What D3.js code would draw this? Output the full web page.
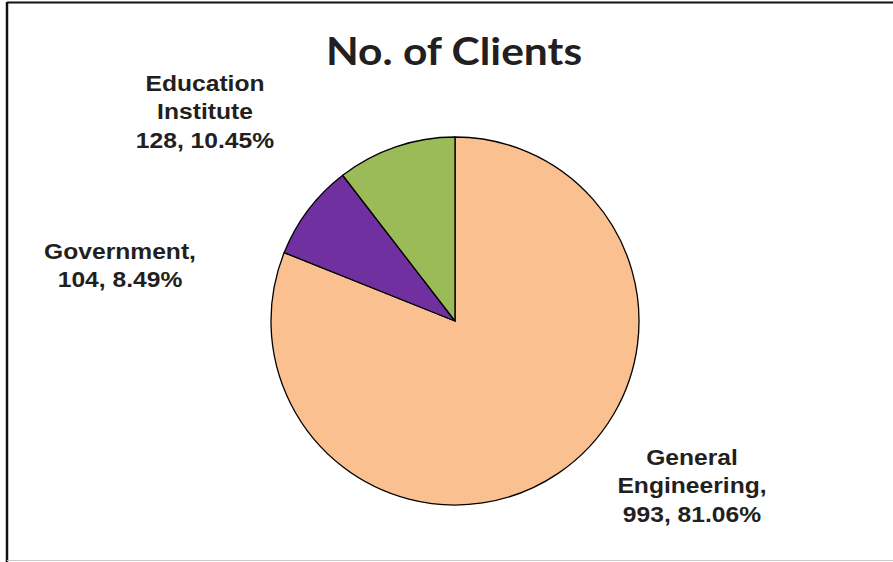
<!DOCTYPE html>
<html>
<head>
<meta charset="utf-8">
<script src="https://cdn.jsdelivr.net/npm/d3@7"></script>
<style>
  html, body { margin: 0; padding: 0; background: #fff; }
  svg { display: block; }
</style>
</head>
<body>
<svg id="chart" width="893" height="562"></svg>
<script>
// Client counts by sector
const categories = ["General Engineering", "Government", "Education Institute"];
const clientCounts = [993, 104, 128];
const sliceColors = ["#FAC090", "#7030A0", "#9BBB59"];
// Label text lines for each slice
const labelLines = [
  ["General", "Engineering,", "993, 81.06%"],
  ["Government,", "104, 8.49%"],
  ["Education", "Institute", "128, 10.45%"]
];
const chartTitle = "No. of Clients";

const svg = d3.select("#chart");
const W = 893, H = 562;

// outer frame (top/left dark, bottom light)
svg.append("line").attr("x1", 7).attr("y1", 2.5).attr("x2", W).attr("y2", 2.5)
  .attr("stroke", "#111").attr("stroke-width", 2);
svg.append("line").attr("x1", 7).attr("y1", 2).attr("x2", 7).attr("y2", H)
  .attr("stroke", "#111").attr("stroke-width", 2.5);
svg.append("line").attr("x1", 7).attr("y1", 560.5).attr("x2", W).attr("y2", 560.5)
  .attr("stroke", "#c8c8c8").attr("stroke-width", 1);

const cx = 455, cy = 321, radius = 184;

const pie = d3.pie().sort(null).value(d => d);
const arcs = pie(clientCounts);
const arc = d3.arc().innerRadius(0).outerRadius(radius);

const g = svg.append("g").attr("transform", `translate(${cx},${cy})`);
g.selectAll("path")
  .data(arcs)
  .join("path")
  .attr("d", arc)
  .attr("fill", (d, i) => sliceColors[i])
  .attr("stroke", "#000")
  .attr("stroke-width", 1.3)
  .attr("stroke-linejoin", "round");

// title
const xStretch = 1.12;
svg.append("text")
  .attr("transform", `translate(454,65) scale(${xStretch},1)`)
  .attr("text-anchor", "middle")
  .attr("font-family", "Lato, 'Open Sans', sans-serif")
  .attr("font-weight", "bold")
  .attr("font-size", 38)
  .attr("fill", "#231F20")
  .text(chartTitle);

// data labels: anchor (center x, first baseline y)
const labelAnchors = [[692, 465], [120, 259], [205, 91]];
const lineGap = 28.5;

labelLines.forEach((lines, i) => {
  const [lx, ly] = labelAnchors[i];
  const t = svg.append("text")
    .attr("transform", `translate(${lx},${ly}) scale(${xStretch},1)`)
    .attr("text-anchor", "middle")
    .attr("font-family", "'Liberation Sans', Arial, sans-serif")
    .attr("font-weight", "bold")
    .attr("font-size", 22)
    .attr("fill", "#231F20");
  lines.forEach((s, j) => {
    t.append("tspan").attr("x", 0).attr("y", j * lineGap).text(s);
  });
});
</script>
</body>
</html>
